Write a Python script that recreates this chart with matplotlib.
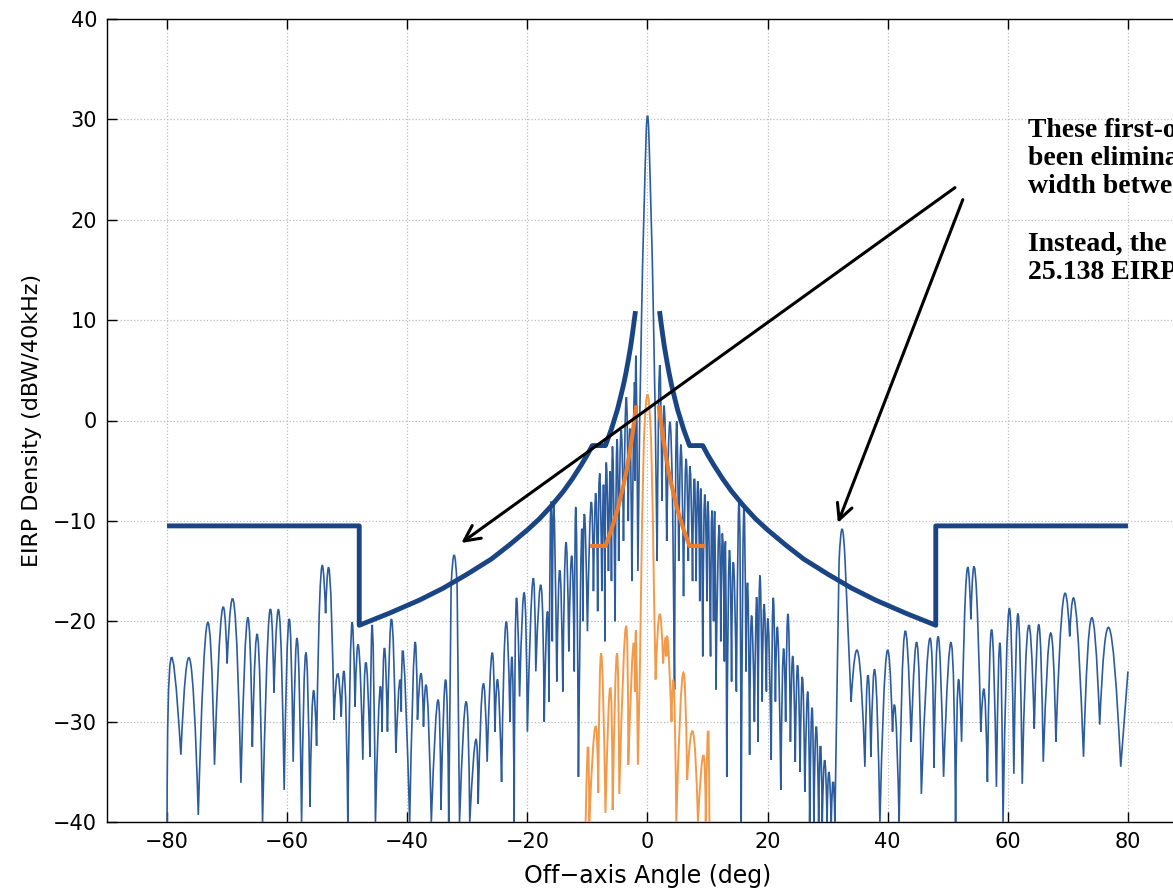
import numpy as np
import matplotlib
matplotlib.use("Agg")
import matplotlib.pyplot as plt
from matplotlib.path import Path
from matplotlib.patches import PathPatch

plt.rcParams['font.family'] = ['DejaVu Sans']

blue_pts = [
    (-80.0, -40), (-79.4, -23.8), (-77.7, -33.3), (-76.2, -23.8), (-74.8, -39.3),
    (-73.3, -20.2), (-72.1, -34.3), (-70.9, -19.2), (-70.0, -24.2), (-68.8, -18.5),
    (-67.7, -36.1), (-66.6, -19.7), (-65.8, -32.5), (-64.9, -21.5), (-64.1, -40),
    (-63.0, -19.5), (-62.2, -27.1), (-61.3, -19.3), (-60.5, -36.8), (-59.7, -19.8),
    (-59.0, -34.0), (-58.3, -21.8), (-57.6, -40), (-56.9, -23.1), (-56.2, -38.5),
    (-55.7, -27.2), (-55.1, -32.4), (-54.4, -15.5), (-53.6, -19.2), (-52.9, -15.4),
    (-52.2, -29.8), (-51.6, -25.2), (-51.0, -29.5), (-50.4, -25.7), (-49.9, -40),
    (-49.3, -20.7), (-48.7, -28.5), (-48.1, -22.5), (-47.4, -33.8), (-46.9, -24.0),
    (-46.2, -33.5), (-45.8, -20.5), (-45.3, -40), (-44.6, -27.0), (-44.2, -31.0),
    (-43.8, -22.6), (-43.3, -31.0), (-42.6, -19.8), (-41.9, -33.1), (-41.3, -26.0),
    (-41.0, -29.0), (-40.6, -23.5), (-39.6, -40), (-38.8, -22.6), (-38.3, -29.8),
    (-37.7, -25.2), (-37.3, -30.5), (-36.7, -27.0), (-36.0, -40), (-34.9, -27.8),
    (-34.4, -38.8), (-33.6, -25.8), (-33.1, -40), (-32.7, -16.5), (-32.2, -13.4),
    (-31.7, -16.5), (-31.3, -40), (-30.2, -28.0), (-29.6, -40), (-28.6, -31.8),
    (-28.2, -38.2), (-27.4, -26.3), (-26.7, -34.0), (-25.9, -23.2), (-25.4, -31.0),
    (-24.9, -26.0), (-24.3, -36.0), (-23.6, -20.2), (-22.9, -30.0), (-22.5, -24.0),
    (-22.2, -40), (-21.9, -18.3), (-21.3, -27.5), (-20.5, -17.2), (-20.0, -31.0),
    (-19.1, -15.9), (-18.6, -25.0), (-17.7, -16.5), (-17.2, -30.0), (-16.7, -19.0),
    (-16.4, -28.0), (-16.1, -8.2), (-15.85, -22.0), (-15.6, -8.5), (-15.1, -26.0),
    (-14.6, -14.8), (-14.1, -27.0), (-13.6, -12.2), (-13.1, -23.0), (-12.6, -13.5),
    (-12.2, -25.0), (-11.9, -8.9), (-11.5, -35.5), (-11.0, -11.5), (-10.75, -20.0),
    (-10.5, -9.2), (-10.0, -21.0), (-9.4, -8.2), (-9.0, -17.0), (-8.6, -7.2),
    (-8.3, -19.0), (-8.0, -5.2), (-7.6, -17.0), (-7.3, -6.5), (-7.1, -22.0),
    (-6.9, -4.4), (-6.5, -15.0), (-6.2, -4.5), (-6.0, -16.0), (-5.8, -2.6),
    (-5.4, -20.0), (-5.1, -2.0), (-4.8, -14.0), (-4.4, -0.9), (-4.0, -12.0),
    (-3.55, 2.4), (-3.2, -10.0), (-2.9, -1.0), (-2.6, -16.0), (-2.2, 3.4),
    (-2.05, -6.0), (-1.9, 6.2), (-1.6, -15.0), (-1.3, 0.0), (-1.0, 10.0),
    (-0.8, 16.0), (-0.6, 20.5), (-0.4, 25.0), (-0.2, 29.0), (0.0, 30.4),
    (0.2, 29.0), (0.4, 25.0), (0.6, 20.5), (0.8, 16.0), (1.0, 10.0),
    (1.3, 0.0), (1.6, -14.0), (2.0, 5.4), (2.4, -8.0), (2.8, 1.4),
    (3.2, -12.0), (3.7, -0.2), (4.2, -9.0), (4.5, -26.8), (4.8, -0.6),
    (5.2, -14.0), (5.6, -2.5), (6.0, -17.5), (6.4, -3.9), (6.8, -14.0),
    (7.1, -4.5), (7.5, -16.0), (7.8, -5.2), (8.1, -16.0), (8.4, -6.0),
    (8.7, -18.0), (8.9, -6.9), (9.2, -23.5), (9.5, -7.5), (9.9, -18.0),
    (10.1, -8.2), (10.5, -23.5), (10.7, -9.0), (11.0, -20.0), (11.2, -9.2),
    (11.4, -26.8), (11.9, -10.5), (12.2, -22.0), (12.5, -11.2), (12.8, -24.0),
    (13.0, -12.5), (13.2, -35.5), (13.6, -13.2), (14.0, -26.0), (14.3, -14.0),
    (14.8, -27.0), (15.3, -8.2), (15.6, -40), (16.0, -9.2), (16.4, -25.0),
    (16.7, -16.5), (17.0, -33.3), (17.3, -19.5), (17.8, -30.0), (18.2, -17.5),
    (18.4, -32.0), (18.7, -15.5), (19.1, -28.0), (19.4, -18.2), (19.8, -27.0),
    (20.1, -20.0), (20.6, -33.8), (20.9, -17.8), (21.3, -28.0), (21.7, -21.0),
    (22.2, -36.8), (22.6, -23.0), (23.0, -30.0), (23.4, -19.2), (23.8, -32.0),
    (24.2, -23.5), (24.6, -34.0), (25.0, -24.3), (25.4, -35.0), (25.8, -25.5),
    (26.2, -37.0), (26.7, -27.1), (27.0, -40), (27.4, -28.5), (27.7, -40),
    (28.1, -30.4), (28.5, -40), (28.8, -32.0), (29.1, -40), (29.5, -33.8),
    (29.9, -40), (30.2, -35.0), (30.6, -40), (30.9, -35.8), (31.2, -40),
    (31.9, -14.0), (32.4, -10.8), (32.9, -14.0), (33.9, -28.0), (35.1, -23.2),
    (36.2, -34.5), (36.7, -25.3), (37.2, -33.5), (37.9, -25.0), (38.7, -40),
    (39.8, -23.3), (40.8, -31.0), (41.3, -29.1), (41.9, -40), (42.8, -21.2),
    (43.9, -32.0), (44.9, -22.2), (45.6, -37.2), (47.0, -21.7), (47.7, -34.6),
    (48.4, -21.5), (49.3, -35.5), (50.6, -22.2), (51.3, -40), (51.7, -26.2),
    (52.3, -32.0), (53.1, -15.5), (53.85, -19.8), (54.6, -15.3), (55.5, -31.0),
    (56.1, -27.0), (56.6, -36.0), (57.3, -20.8), (58.1, -36.5), (58.7, -22.2),
    (59.2, -40), (60.2, -18.8), (61.0, -35.2), (61.7, -19.2), (62.4, -36.2),
    (63.4, -20.5), (64.4, -30.7), (65.2, -20.4), (65.9, -34.0), (67.1, -21.2),
    (68.0, -32.0), (69.2, -18.0), (70.3, -21.5), (71.3, -18.7), (72.6, -33.5),
    (73.9, -19.7), (75.3, -30.3), (76.9, -20.7), (78.8, -34.5), (80.0, -25.0),
]

# second pattern (orange)
orange_pts = [
    (-10.3, -40), (-9.9, -32.1), (-9.7, -40), (-8.7, -30.5), (-8.2, -37.1),
    (-7.7, -23.2), (-7.0, -39.1), (-6.2, -26.5), (-5.8, -38.8), (-5.1, -23.2),
    (-4.7, -37.2), (-3.6, -20.5), (-3.2, -34.3), (-2.4, -22.5), (-2.1, -27.0),
    (-1.9, -21.2), (-1.6, -34.3), (-1.3, -26.0), (-1.1, -18.0), (-0.9, -10.0),
    (-0.6, -2.0), (0.0, 2.6), (0.6, -2.0), (0.9, -10.0), (1.1, -18.0),
    (1.35, -25.8), (2.0, -19.3), (2.6, -24.2), (3.0, -21.6), (3.15, -23.5),
    (3.4, -22.0), (4.0, -30.0), (4.4, -26.5), (4.8, -40), (5.9, -25.2),
    (6.6, -35.8), (7.6, -31.1), (8.4, -40), (9.3, -33.3), (9.7, -40),
    (10.1, -30.4), (10.3, -40),
]

# EIRP density mask, positive side (mirrored for negative angles)
mask_deg = [2.0, 2.2, 2.5, 2.8, 3.2, 3.6, 4.0, 4.5, 5.0, 6.0, 7.0, 9.2, 10, 11, 12.5,
            14, 16, 18, 20, 23, 26, 30, 34, 38, 43, 48, 48, 80]
mask_db = [10.9, 10.0, 8.65, 7.4, 6.0, 4.7, 3.55, 2.3, 1.1, -0.85, -2.5, -2.5, -3.4,
           -4.4, -5.8, -7.05, -8.5, -9.8, -10.9, -12.4, -13.8, -15.3, -16.7, -17.9,
           -19.2, -20.4, -10.5, -10.5]

# reduced mask (orange), positive side
omask_deg = [1.9, 2.2, 2.5, 3.0, 3.5, 4.0, 5.0, 6.0, 7.0, 9.2]
omask_db = [1.3, 0.0, -1.35, -3.3, -5.0, -6.45, -8.9, -10.85, -12.5, -12.5]

note_lines = [
    ("These first-order sidelobes have", 137),
    ("been eliminated by increasing the", 165),
    ("width between the", 193),
    ("Instead, the", 251),
    ("25.138 EIRP density mask", 279),
]


def lobe_path(pts):
    # lobes drawn as arches: each local max is passed through by a quadratic curve
    p = np.array(pts, dtype=float)
    verts = [p[0]]
    codes = [Path.MOVETO]
    i = 1
    while i < len(p):
        if i + 1 < len(p) and p[i, 1] > p[i - 1, 1] and p[i, 1] > p[i + 1, 1]:
            ctrl = 2 * p[i] - (p[i - 1] + p[i + 1]) / 2
            verts += [ctrl, p[i + 1]]
            codes += [Path.CURVE3, Path.CURVE3]
            i += 2
        else:
            verts.append(p[i])
            codes.append(Path.LINETO)
            i += 1
    return Path(verts, codes)


W, H = 1173, 893
fig = plt.figure(figsize=(W / 100, H / 100), dpi=100)
ax = fig.add_axes([107 / W, (H - 822) / H, (1188 - 107) / W, (822 - 19) / H])

ax.add_patch(PathPatch(lobe_path(blue_pts), fill=False, edgecolor='#2c5c9e',
                       lw=1.2, zorder=3))
ax.add_patch(PathPatch(lobe_path(orange_pts), fill=False, edgecolor='#f39a4a',
                       lw=1.4, zorder=4))

mx = np.array(mask_deg)
my = np.array(mask_db)
ax.plot(mx, my, color='#1a4585', lw=3.5, zorder=5, solid_capstyle='butt')
ax.plot(-mx, my, color='#1a4585', lw=3.5, zorder=5, solid_capstyle='butt')
omx = np.array(omask_deg)
omy = np.array(omask_db)
ax.plot(omx, omy, color='#ec7d2c', lw=3.0, zorder=6)
ax.plot(-omx, omy, color='#ec7d2c', lw=3.0, zorder=6)

ax.set_xlim(-90, 90)
ax.set_ylim(-40, 40)
ax.set_xticks(np.arange(-80, 81, 20))
ax.set_yticks(np.arange(-40, 41, 10))
ax.grid(True, linestyle=':', color='#bcbcbc', lw=0.9)
ax.tick_params(direction='in', length=7, width=1, top=True, right=True,
               labelsize=15, pad=7)
for s in ax.spines.values():
    s.set_linewidth(1.0)
ax.set_xlabel('Off\u2212axis Angle (deg)', fontsize=17, labelpad=9)
ax.set_ylabel('EIRP Density (dBW/40kHz)', fontsize=16, labelpad=8)

arrow = dict(arrowstyle='->', lw=2.2, color='black', mutation_scale=28,
             shrinkA=0, shrinkB=0)
ax.annotate('', xy=(-31.0, -12.2), xytext=(51.2, 23.2), arrowprops=arrow, zorder=8)
ax.annotate('', xy=(31.7, -10.2), xytext=(52.5, 22.0), arrowprops=arrow, zorder=8)

for txt, ypx in note_lines:
    fig.text(1028 / W, 1 - ypx / H, txt, fontsize=20, fontweight='bold',
             family='Liberation Serif', va='baseline', ha='left')

fig.savefig('out.png', dpi=100)
